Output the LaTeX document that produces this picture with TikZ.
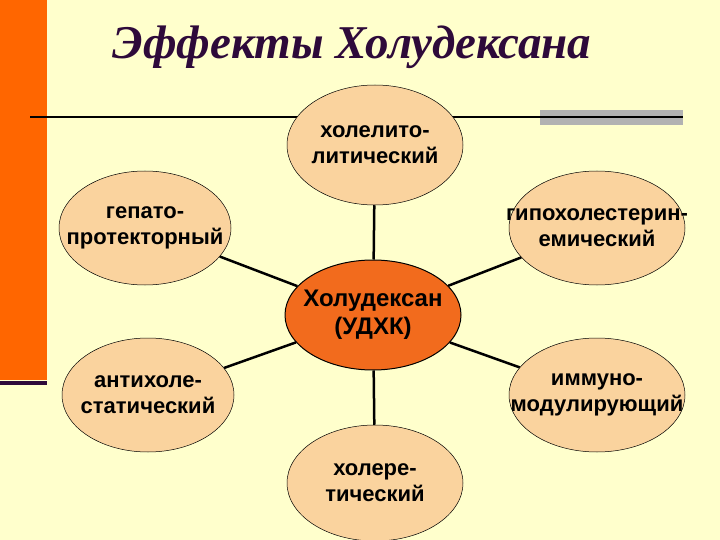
\documentclass[tikz,border=0pt]{standalone}
\usepackage{fontspec}
\setmainfont{Liberation Sans}
\newfontfamily\titlefont{Liberation Serif}
\usetikzlibrary{shapes.geometric}
\definecolor{bg}{HTML}{FFFFCC}
\definecolor{bar}{HTML}{FF6600}
\definecolor{pale}{HTML}{FAD39E}
\definecolor{core}{HTML}{F26B1D}
\definecolor{ttl}{HTML}{2E0A3A}
\tikzset{
  eff/.style={ellipse,draw=black,line width=0.5pt,fill=pale,minimum width=#1,minimum height=114pt,inner sep=0pt},
  eff/.default=172pt,
  efftxt/.style={align=center,inner sep=0pt,font=\fontsize{22}{26}\selectfont\bfseries},
  link/.style={line width=2.5pt,draw=black}
}
\begin{document}
\begin{tikzpicture}[x=1pt,y=-1pt]
\fill[bg] (0,0) rectangle (720,540);
\useasboundingbox (0,0) rectangle (720,540);
\fill[bar] (0,0) rectangle (47,380);
\fill[ttl] (0,381) rectangle (47,385);
\fill[gray!60] (540,110) rectangle (683,125);
\draw[line width=2pt] (30,117) -- (683,117);
\node[font=\titlefont\fontsize{47}{50}\selectfont\bfseries\itshape,text=ttl] (title) at (352,47) {Эффекты Холудексана};
\node[eff=176pt,minimum height=110pt,fill=core,line width=1pt] (c) at (373,315) {};
\node[eff=176pt,minimum height=120pt] (t) at (375,145) {};
\node[eff] (lt) at (145,228) {};
\node[eff=176pt] (rt) at (597,228) {};
\node[eff] (lb) at (148,395) {};
\node[eff=176pt] (rb) at (597,395) {};
\node[eff=176pt,minimum height=116pt] (b) at (375,483) {};
\foreach \n in {t,lt,rt,lb,rb,b} \draw[link] (c) -- (\n);
\node[eff, draw=none, fill=none, minimum width=0pt, minimum height=0pt, efftxt, font=\fontsize{24}{28}\selectfont\bfseries] (ct) at (c) {Холудексан\\(УДХК)};
\node[efftxt] (tt) at (t) {холелито-\\литический};
\node[efftxt] (ltt) at (lt) {гепато-\\протекторный};
\node[efftxt] (rtt) at (rt) {гипохолестерин-\\емический};
\node[efftxt] (lbt) at (lb) {антихоле-\\статический};
\node[efftxt] (rbt) at (rb) {иммуно-\\модулирующий};
\node[efftxt] (bt) at (b) {холере-\\тический};
\end{tikzpicture}
\end{document}
